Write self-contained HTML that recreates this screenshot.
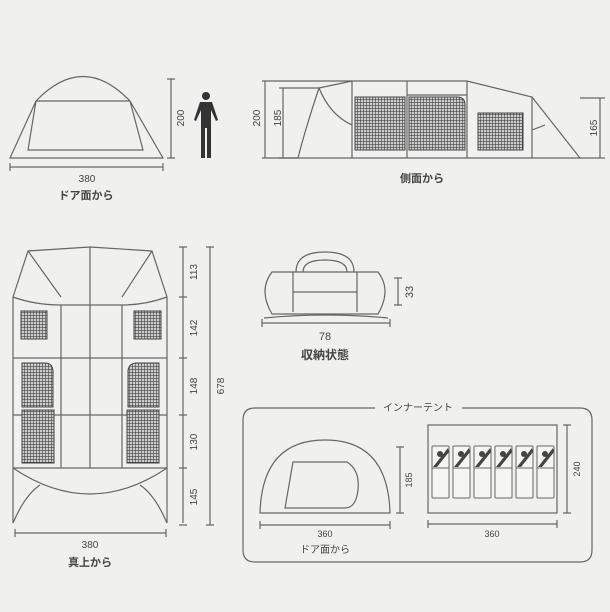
<!DOCTYPE html>
<html><head><meta charset="utf-8"><style>
html,body{margin:0;padding:0;background:#f0f0ee;}
svg{display:block;}
text{font-family:"Liberation Sans","Noto Sans CJK JP",sans-serif;fill:#444;}
</style></head><body>
<svg width="610" height="612" viewBox="0 0 610 612" xmlns="http://www.w3.org/2000/svg">
<defs>
<pattern id="mesh" width="3" height="3" patternUnits="userSpaceOnUse">
<rect width="3" height="3" fill="#ccc"/>
<path d="M0 0H3M0 0V3" stroke="#444" stroke-width="1.2"/>
</pattern>
</defs>
<rect width="610" height="612" fill="#f0f0ee"/>
<g fill="none" stroke="#666" stroke-width="1.2">
<path d="M36 101 Q83 52 130 101"/>
<path d="M36 101 H130"/>
<path d="M10 158 L36 101 L28 150 H143 L130 101 L163 158 Z"/>
<path d="M10 167 H163 M10 163 V171 M163 163 V171"/>
<path d="M171 79 V158 M167 79 H175 M167 158 H175"/>
<path d="M262 81 H352 M262 158 H298 M265 81 V158"/>
<path d="M279 88 H319 M279 158 H298 M283 88 V158"/>
<path d="M298 158 H580 L532 97 L467 81 H352 L319 88"/>
<path d="M319 88 Q330 115 352 125 M319 88 Q305 130 298 158"/>
<path d="M352 81 V158 M407 81 V158 M467 81 V158 M532 97 V158 M407 95 H467"/>
<path d="M532 130 L545 125 M580 98 H605 M580 158 H605 M600 98 V158"/>
<path d="M13 297 L28 251 L90 247 L152 251 L167 297 M90 247 V468"/>
<path d="M28 251 L61 297 M152 251 L122 297 M13 297 Q35 305 61 305 H122 Q145 305 167 297"/>
<path d="M13 297 V523 M167 297 V523 M61 305 V468 M122 305 V468"/>
<path d="M13 358 H167 M13 415 H167 M13 468 H167"/>
<path d="M13 468 Q90 520 167 468 M13 523 Q25 495 40 485 M167 523 Q155 495 140 485"/>
<path d="M183 247 V523 M179 247 H187 M179 297 H187 M179 358 H187 M179 415 H187 M179 468 H187 M179 525 H187"/>
<path d="M210 247 V525 M206 247 H214 M206 525 H214"/>
<path d="M15 533 H166 M15 529 V537 M166 529 V537"/>
<path d="M272 272 H378 Q392 290 378 314 H272 Q258 290 272 272 Z"/>
<path d="M293 272 V312 M357 272 V312 M293 292 H357"/>
<path d="M296 272 Q296 252 325 252 Q354 252 354 272"/>
<path d="M303 272 Q303 260 325 260 Q347 260 347 272"/>
<path d="M264 318 Q325 312 388 318"/>
<path d="M398 278 V305 M394 278 H402 M394 305 H402"/>
<path d="M262 323 H390 M262 319 V327 M390 319 V327"/>
<path d="M375 408 H255 Q243 408 243 420 V550 Q243 562 255 562 H580 Q592 562 592 550 V420 Q592 408 580 408 H462"/>
<path d="M260 513 Q262 440 325 440 Q388 440 390 513 Z"/>
<path d="M293 462 H347 Q360 470 358 490 Q356 508 345 508 H285 Z"/>
<path d="M400 447 V513 M396 447 H404 M396 513 H404"/>
<path d="M260 525 H390 M260 521 V529 M390 521 V529"/>
<rect x="428" y="425" width="129" height="88"/>
<path d="M567 425 V513 M563 425 H571 M563 513 H571"/>
<path d="M428 524 H557 M428 520 V528 M557 520 V528"/>
</g>
<g fill="url(#mesh)" stroke="#444" stroke-width="1">
<rect x="355" y="97" width="50" height="53"/>
<path d="M409 97 H457 Q465 97 465 105 V150 H409 Z"/>
<rect x="478" y="113" width="45" height="37"/>
<rect x="21" y="311" width="26" height="28"/>
<rect x="134" y="311" width="27" height="28"/>
<path d="M22 407 V363 H45 Q53 363 53 372 V407 Z"/>
<path d="M159 407 V363 H137 Q128 363 128 372 V407 Z"/>
<rect x="22" y="410" width="32" height="53"/>
<rect x="127" y="410" width="32" height="53"/>
</g>
<g fill="#333">
<circle cx="206" cy="96" r="4"/>
<path d="M200 102 H212 L218 120 L216 121 L211 110 V158 H207 V128 H205 V158 H201 V110 L196 121 L194 120 Z"/>
</g>
<g stroke="#666" stroke-width="1" fill="#f5f5f3">
<rect x="432" y="446" width="17" height="52" rx="1"/>
<rect x="453" y="446" width="17" height="52" rx="1"/>
<rect x="474" y="446" width="17" height="52" rx="1"/>
<rect x="495" y="446" width="17" height="52" rx="1"/>
<rect x="516" y="446" width="17" height="52" rx="1"/>
<rect x="537" y="446" width="17" height="52" rx="1"/>
<path d="M432 468 H449 M453 468 H470 M474 468 H491 M495 468 H512 M516 468 H533 M537 468 H554"/>
</g>
<g fill="#444">
<path d="M433 467 L448 448 L449 452 L437 467 Z"/><circle cx="440" cy="454" r="3"/>
<path d="M454 467 L469 448 L470 452 L458 467 Z"/><circle cx="461" cy="454" r="3"/>
<path d="M475 467 L490 448 L491 452 L479 467 Z"/><circle cx="482" cy="454" r="3"/>
<path d="M496 467 L511 448 L512 452 L500 467 Z"/><circle cx="503" cy="454" r="3"/>
<path d="M517 467 L532 448 L533 452 L521 467 Z"/><circle cx="524" cy="454" r="3"/>
<path d="M538 467 L553 448 L554 452 L542 467 Z"/><circle cx="545" cy="454" r="3"/>
</g>
<g font-size="10" text-anchor="middle">
<text x="87" y="182">380</text>
<text x="86" y="199" font-size="11" font-weight="bold">ドア面から</text>
<text x="422" y="182" font-size="11" font-weight="bold">側面から</text>
<text transform="translate(184 118) rotate(-90)">200</text>
<text transform="translate(260 118) rotate(-90)">200</text>
<text transform="translate(281 118) rotate(-90)">185</text>
<text transform="translate(603 128) rotate(-90)" dy="-6">165</text>
<text transform="translate(197 272) rotate(-90)">113</text>
<text transform="translate(197 328) rotate(-90)">142</text>
<text transform="translate(197 386) rotate(-90)">148</text>
<text transform="translate(197 442) rotate(-90)">130</text>
<text transform="translate(197 497) rotate(-90)">145</text>
<text transform="translate(224 386) rotate(-90)">678</text>
<text x="90" y="548">380</text>
<text x="90" y="566" font-size="11" font-weight="bold">真上から</text>
<text transform="translate(413 292) rotate(-90)" font-size="11">33</text>
<text x="325" y="340" font-size="11">78</text>
<text x="325" y="359" font-size="12" font-weight="bold">収納状態</text>
<text x="418" y="411" font-size="10">インナーテント</text>
<text transform="translate(412 480) rotate(-90)" font-size="9">185</text>
<text x="325" y="537" font-size="9">360</text>
<text x="325" y="553" font-size="10">ドア面から</text>
<text transform="translate(580 469) rotate(-90)" font-size="9">240</text>
<text x="492" y="537" font-size="9">360</text>
</g>
</svg>
</body></html>
